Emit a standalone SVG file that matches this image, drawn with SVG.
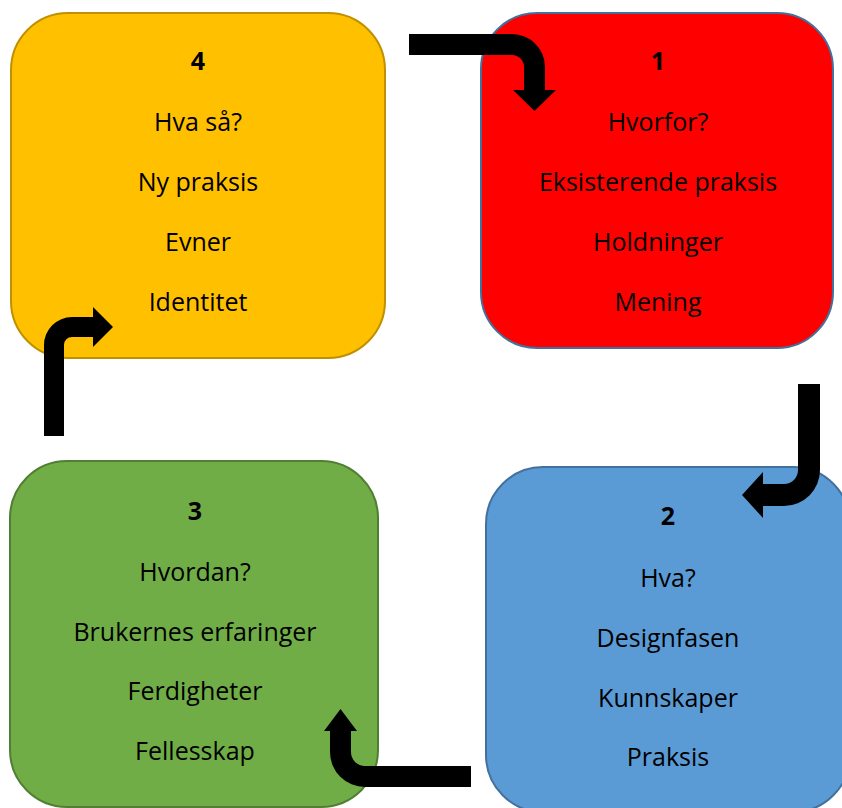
<svg xmlns="http://www.w3.org/2000/svg" width="842" height="808" viewBox="0 0 842 808">
<style>
  .box { stroke-width: 2; }
  .t { font-family: "Open Sans", "Noto Sans", sans-serif; font-size: 25px; fill: #000; text-anchor: middle; }
  .n { font-weight: bold; }
  .arrow { fill: #000; }
</style>
<rect width="842" height="808" fill="#fff"/>
<g id="node4">
  <rect class="box" x="11" y="13" width="374" height="345" rx="57" ry="57" fill="#FFC000" stroke="#BF9000"/>
  <text class="t n" x="198" y="70">4</text>
  <text class="t" x="198" y="131">Hva så?</text>
  <text class="t" x="198" y="191">Ny praksis</text>
  <text class="t" x="198" y="251">Evner</text>
  <text class="t" x="198" y="311">Identitet</text>
</g>
<g id="node1">
  <rect class="box" x="481" y="13" width="352" height="335" rx="56" ry="56" fill="#FF0000" stroke="#41719C"/>
  <text class="t n" x="658" y="70">1</text>
  <text class="t" x="658" y="131">Hvorfor?</text>
  <text class="t" x="658" y="191">Eksisterende praksis</text>
  <text class="t" x="658" y="251">Holdninger</text>
  <text class="t" x="658" y="311">Mening</text>
</g>
<g id="node3">
  <rect class="box" x="10" y="461" width="368" height="346" rx="57" ry="57" fill="#70AD47" stroke="#507E32"/>
  <text class="t n" x="195" y="520">3</text>
  <text class="t" x="195" y="581">Hvordan?</text>
  <text class="t" x="195" y="641">Brukernes erfaringer</text>
  <text class="t" x="195" y="700">Ferdigheter</text>
  <text class="t" x="195" y="760">Fellesskap</text>
</g>
<g id="node2">
  <rect class="box" x="486" y="467" width="364" height="345" rx="57" ry="57" fill="#5B9BD5" stroke="#41719C"/>
  <text class="t n" x="668" y="525">2</text>
  <text class="t" x="668" y="587">Hva?</text>
  <text class="t" x="668" y="647">Designfasen</text>
  <text class="t" x="668" y="707">Kunnskaper</text>
  <text class="t" x="668" y="766">Praksis</text>
</g>
<g id="connectors">
  <path class="arrow" d="M409,34 H512 A33,33 0 0 1 545,67 V90 H556 L534.5,111 L513,90 H524 V67 A12,12 0 0 0 512,55 H409 Z"/>
  <path class="arrow" d="M798,384 H820 V470 A36,36 0 0 1 784,506 H763 V518 L742,495 L763,472 V484 H784 A14,14 0 0 0 798,470 Z"/>
  <path class="arrow" d="M471,766 V787 H365 A35,35 0 0 1 330,752 V731 H324 L340.5,709 L357,731 H351 V752 A14,14 0 0 0 365,766 Z"/>
  <path class="arrow" d="M44,436 V345 A28,28 0 0 1 72,317 H93 V307 L113,327 L93,347 V337 H72 A8,8 0 0 0 64,345 V436 Z"/>
</g>
</svg>
